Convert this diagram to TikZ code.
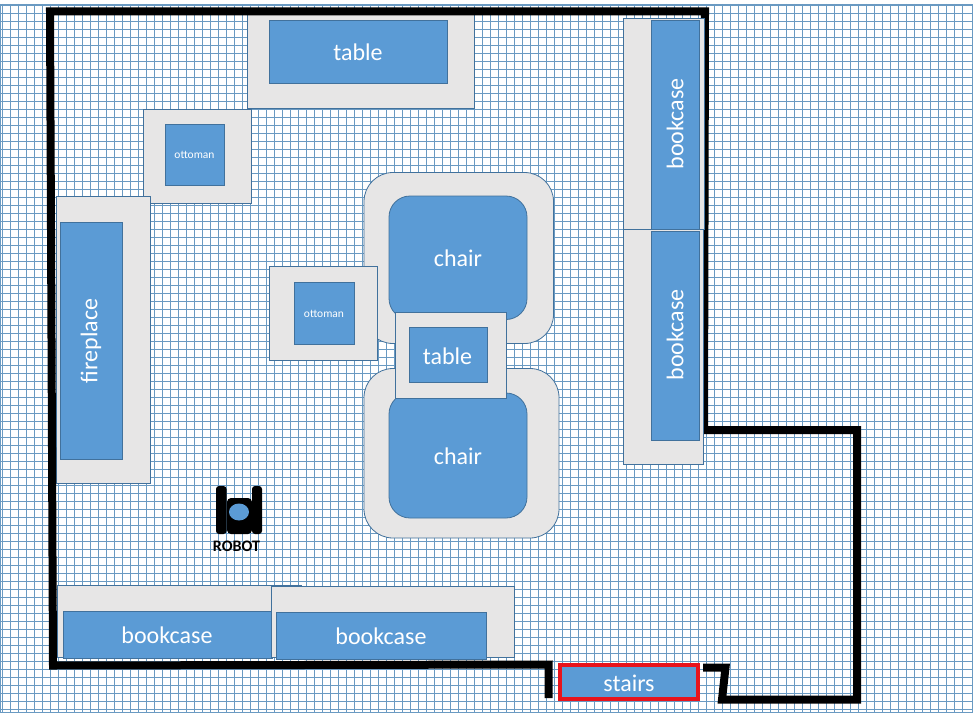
\documentclass[tikz,border=0pt]{standalone}
\usepackage{fontspec}
\setmainfont{Carlito}
\definecolor{gridblue}{HTML}{6A9AC2}
\definecolor{itemblue}{HTML}{5B9BD5}
\definecolor{itemedge}{HTML}{41719C}
\definecolor{plategrey}{HTML}{E7E6E6}
\definecolor{stairred}{HTML}{E8141C}
\tikzset{
  plate/.style={draw=itemedge,fill=plategrey,line width=.8pt},
  item/.style={draw=itemedge,fill=itemblue,line width=.8pt},
  wall/.style={draw=black,line width=8pt,miter limit=10},
  lbl/.style={text=white,font=\fontsize{24}{26}\selectfont,inner sep=0pt},
  smalllbl/.style={text=white,font=\fontsize{11.5}{13}\selectfont,inner sep=0pt},
}
\begin{document}
\begin{tikzpicture}[x=1pt,y=-1pt]
\useasboundingbox (0,0) rectangle (977,717);
\fill[white] (0,0) rectangle (977,717);
% floor grid
\foreach \gx in {0,...,120}{
  \draw[gridblue,line width=1pt] ({2.5+\gx*8},4) -- ({2.5+\gx*8},712);
}
\foreach \gy in {0,...,88}{
  \draw[gridblue,line width=1pt] (0,{5.5+\gy*8}) -- (972,{5.5+\gy*8});
}
\draw[gridblue,line width=1pt] (0,4.5) rectangle (972.5,712.5);
% top table
\draw[plate] (247,12) rectangle (474,108);
\draw[item] (269,20) rectangle (447,83);
\node[lbl] (tabletop) at (358,52) {table};
% ottomans
\draw[plate] (143,109) rectangle (251,203);
\draw[item] (165,124) rectangle (224,185);
\node[smalllbl] (ottomanone) at (194.5,155) {ottoman};
% fireplace
\draw[plate] (56,196) rectangle (150,483);
\draw[item] (60,222) rectangle (122,459);
\node[lbl,rotate=90] (fireplace) at (91,341) {fireplace};
% chairs
\draw[plate,rounded corners=29pt] (364,172.5) rectangle (553.5,343.5);
\draw[item,rounded corners=21pt] (389,196) rectangle (527,319.5);
\node[lbl] (chairone) at (458,258) {chair};
\draw[plate,rounded corners=29pt] (364,368.5) rectangle (559,538);
\draw[item,rounded corners=21pt] (389,393) rectangle (527,518);
\node[lbl] (chairtwo) at (458,456) {chair};
% second ottoman, over the chair
\draw[plate] (269,266) rectangle (377.5,360);
\draw[item] (294,282) rectangle (354,344);
\node[smalllbl] (ottomantwo) at (324,314) {ottoman};
% middle table
\draw[plate] (395.5,312.5) rectangle (506,398);
\draw[item] (409,327) rectangle (487,382);
\node[lbl] (tablemid) at (447.5,356) {table};
% bottom bookcases
\draw[plate] (57,585.5) rectangle (301.5,657);
\draw[item] (63,611) rectangle (272.5,658);
\node[lbl] (bookcasethree) at (167,635) {bookcase};
\draw[plate] (271.5,586.5) rectangle (514,657.5);
\draw[item] (276,612) rectangle (486.5,659);
\node[lbl] (bookcasefour) at (381,636) {bookcase};
% walls
\draw[wall] (548.5,698) -- (548.5,664.5) -- (53,665.5) -- (50,11.5) -- (705,11.5) -- (704,430)
  -- (857,430) -- (857,699.5) -- (722,699.5) -- (725.5,667.5) -- (703,667.5);
% right bookcases go over the wall
\draw[plate] (623.5,18.5) rectangle (704.5,229.5);
\draw[item] (651,20) rectangle (699,229);
\node[lbl,rotate=90] (bookcaseone) at (675,124) {bookcase};
\draw[plate] (623.5,229.5) rectangle (703.5,464.5);
\draw[item] (651.5,231.5) rectangle (699,440.5);
\node[lbl,rotate=90] (bookcasetwo) at (675,335) {bookcase};
% stairs
\draw[item,draw=stairred,line width=4pt] (559.5,664.5) rectangle (698,699);
\node[lbl] (stairs) at (629,683) {stairs};
% robot
\fill[black,rounded corners=3pt] (216,486) rectangle (226.5,534);
\fill[black,rounded corners=3pt] (252,486) rectangle (262,534);
\fill[black,rounded corners=4pt] (227,498) rectangle (252,534);
\fill[itemblue] (239,512) ellipse (10 and 8.5);
\node[inner sep=0pt,font=\bfseries\fontsize{16}{17}\selectfont] (robot) at (236.5,546) {ROBOT};
\end{tikzpicture}
\end{document}
